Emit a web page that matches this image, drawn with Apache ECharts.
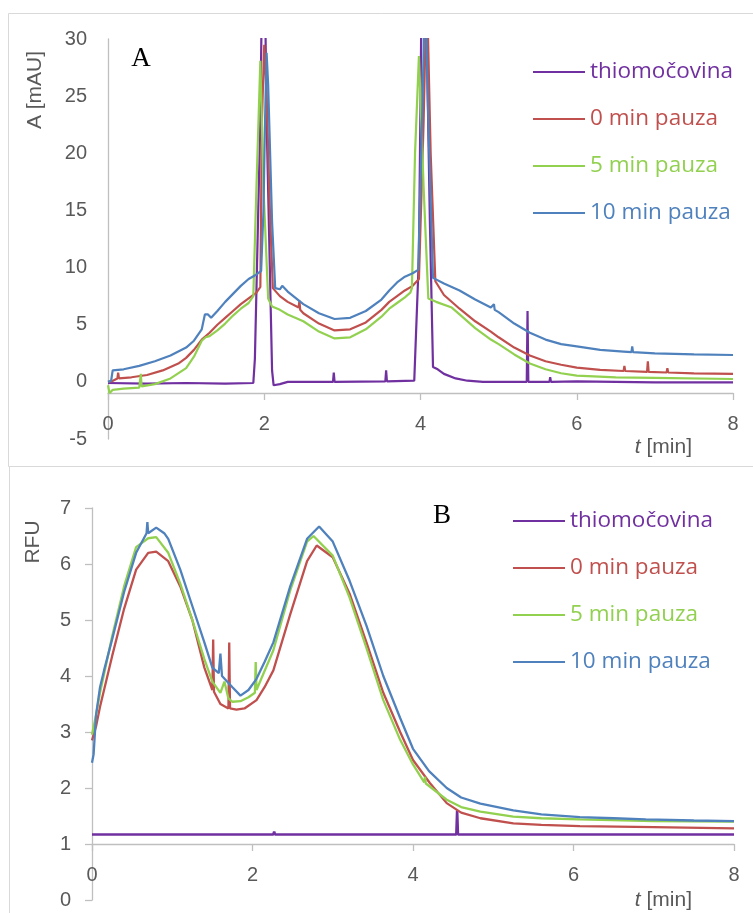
<!DOCTYPE html>
<html>
<head>
<meta charset="utf-8">
<script src="https://cdn.jsdelivr.net/npm/echarts/dist/echarts.min.js"></script>
<style>
  html, body { margin: 0; padding: 0; background: #fff; }
  #chart { width: 753px; height: 913px; }
</style>
</head>
<body>
<div id="chart"></div>
<script>
// series names (legend)
var names = ['thiomočovina', '0 min pauza', '5 min pauza', '10 min pauza']
var colors = ['#7030A0', '#C0504D', '#92D050', '#4F81BD']

// x ticks (both panels)
var xTicks = [0, 2, 4, 6, 8]

// panel A - absorbance [mAU], pairs [t, A]
var thioA = [[0,-0.1],[0.5,-0.15],[1,-0.1],[1.5,-0.15],[1.86,-0.1],[1.88,2],[1.95,23],[1.99,45],[2.03,23],[2.1,1],[2.12,-0.3],[2.2,-0.2],[2.3,0],[2.88,0],[2.89,0.8],[2.9,0],[3.55,0.05],[3.56,1.0],[3.57,0.05],[3.92,0.1],[3.98,11],[4.03,45],[4.08,30],[4.12,14],[4.16,1.3],[4.22,1.1],[4.3,0.7],[4.45,0.3],[4.6,0.1],[4.8,0],[5.36,0],[5.37,6.2],[5.38,0],[5.65,0],[5.66,0.4],[5.67,0],[6,0.05],[7,-0.05],[8,-0.05]]
var p0A = [[0,0],[0.05,0.05],[0.12,0.3],[0.13,0.8],[0.14,0.3],[0.3,0.4],[0.5,0.6],[0.7,1.0],[0.9,1.6],[1.0,2.1],[1.1,2.8],[1.2,3.7],[1.3,4.3],[1.4,5.0],[1.5,5.6],[1.6,6.2],[1.7,6.8],[1.8,7.3],[1.9,7.8],[1.95,8.3],[1.97,22.8],[2.0,29.5],[2.03,25],[2.07,15.4],[2.11,8.2],[2.2,7.5],[2.3,7.0],[2.44,6.5],[2.45,7.1],[2.46,6.3],[2.5,6.0],[2.7,5.1],[2.9,4.5],[3.1,4.6],[3.3,5.2],[3.5,6.3],[3.6,7.0],[3.7,7.5],[3.8,8.0],[3.9,8.4],[3.98,9.0],[4.04,22.8],[4.08,35],[4.13,20],[4.19,8.8],[4.3,7.6],[4.5,6.4],[4.7,5.3],[4.9,4.4],[5.0,3.9],[5.2,3.0],[5.4,2.3],[5.6,1.8],[5.8,1.5],[6.0,1.25],[6.3,1.05],[6.6,0.95],[6.61,1.4],[6.62,0.95],[6.9,0.88],[6.91,1.8],[6.92,0.88],[7.15,0.82],[7.16,1.2],[7.17,0.82],[7.5,0.75],[8,0.7]]
var p5A = [[0,-0.3],[0.02,-1.0],[0.06,-0.7],[0.2,-0.6],[0.4,-0.5],[0.42,0.7],[0.43,-0.4],[0.6,-0.2],[0.8,0.3],[1.0,1.2],[1.1,2.2],[1.2,3.6],[1.25,3.9],[1.3,4.0],[1.4,4.5],[1.5,5.1],[1.6,5.8],[1.7,6.4],[1.8,6.9],[1.86,7.5],[1.9,17],[1.95,28.1],[1.99,17],[2.05,7.3],[2.1,6.6],[2.2,6.3],[2.3,5.9],[2.5,5.3],[2.7,4.4],[2.9,3.8],[3.1,3.9],[3.3,4.6],[3.5,5.7],[3.6,6.4],[3.7,6.9],[3.8,7.4],[3.87,7.8],[3.89,8.2],[3.93,20],[3.98,28.5],[4.04,17],[4.1,7.3],[4.2,7.0],[4.4,6.5],[4.5,5.9],[4.7,4.7],[4.9,3.7],[5.0,3.3],[5.2,2.4],[5.4,1.6],[5.6,1.1],[5.8,0.75],[6.0,0.55],[6.5,0.4],[7,0.35],[8,0.25]]
var p10A = [[0,0],[0.04,0.1],[0.06,1.0],[0.2,1.1],[0.4,1.4],[0.6,1.8],[0.8,2.3],[1.0,3.0],[1.1,3.6],[1.2,4.6],[1.24,5.9],[1.28,5.9],[1.32,5.6],[1.4,6.2],[1.5,7.0],[1.6,7.7],[1.7,8.4],[1.8,9.0],[1.9,9.4],[1.96,9.7],[1.99,15],[2.01,22.8],[2.03,28.8],[2.05,26],[2.1,14],[2.14,8.2],[2.2,8.1],[2.23,8.4],[2.3,7.9],[2.5,6.8],[2.7,6.0],[2.9,5.5],[3.1,5.6],[3.3,6.2],[3.5,7.2],[3.6,8.0],[3.7,8.7],[3.8,9.2],[3.9,9.5],[3.97,9.8],[4.02,22.8],[4.06,35],[4.1,22.8],[4.16,9.1],[4.3,8.6],[4.5,8.0],[4.7,7.2],[4.9,6.5],[4.94,6.8],[4.95,6.3],[5.0,6.1],[5.2,5.1],[5.4,4.3],[5.6,3.7],[5.8,3.3],[6.0,3.1],[6.3,2.8],[6.6,2.65],[6.7,2.6],[6.71,3.1],[6.72,2.6],[7.0,2.5],[7.5,2.4],[8,2.35]]

// panel B - fluorescence [RFU], pairs [t, RFU]
var thioB = [[0,1.17],[2.26,1.17],[2.27,1.22],[2.28,1.17],[4.54,1.17],[4.55,1.6],[4.56,1.17],[8,1.17]]
var p0B = [[0,2.85],[0.05,3.1],[0.1,3.45],[0.25,4.35],[0.4,5.2],[0.55,5.9],[0.7,6.2],[0.8,6.22],[0.95,6.05],[1.1,5.6],[1.25,5.0],[1.4,4.15],[1.5,3.75],[1.51,4.65],[1.52,3.72],[1.6,3.5],[1.7,3.42],[1.71,4.6],[1.72,3.42],[1.8,3.4],[1.9,3.42],[2.05,3.57],[2.15,3.8],[2.26,4.1],[2.47,5.1],[2.68,6.05],[2.8,6.33],[3.0,6.12],[3.21,5.47],[3.42,4.6],[3.63,3.7],[3.84,3.0],[4.0,2.5],[4.21,2.09],[4.42,1.73],[4.6,1.56],[4.84,1.46],[5.25,1.37],[5.6,1.34],[6.08,1.32],[7,1.3],[8,1.28]]
var p5B = [[0,2.95],[0.05,3.3],[0.1,3.7],[0.25,4.7],[0.4,5.6],[0.55,6.3],[0.7,6.46],[0.8,6.48],[0.95,6.2],[1.1,5.65],[1.25,5.0],[1.4,4.3],[1.5,3.9],[1.6,3.7],[1.65,3.9],[1.7,3.6],[1.75,3.54],[1.85,3.55],[1.95,3.62],[2.03,3.7],[2.04,4.25],[2.05,3.75],[2.26,4.46],[2.47,5.53],[2.68,6.4],[2.76,6.5],[3.0,6.15],[3.21,5.4],[3.42,4.5],[3.63,3.57],[3.84,2.86],[4.0,2.42],[4.14,2.1],[4.15,2.2],[4.16,2.08],[4.42,1.79],[4.6,1.66],[4.84,1.58],[5.25,1.49],[5.6,1.46],[6.08,1.44],[7,1.41],[8,1.4]]
var p10B = [[0,2.45],[0.02,2.6],[0.05,3.3],[0.1,3.8],[0.15,4.1],[0.25,4.65],[0.4,5.5],[0.55,6.2],[0.68,6.55],[0.69,6.75],[0.7,6.55],[0.8,6.65],[0.9,6.55],[0.95,6.45],[1.1,5.9],[1.25,5.25],[1.4,4.6],[1.5,4.15],[1.58,4.05],[1.6,4.4],[1.62,4.0],[1.75,3.8],[1.85,3.65],[1.95,3.75],[2.05,3.95],[2.15,4.25],[2.26,4.6],[2.47,5.6],[2.68,6.45],[2.83,6.67],[3.0,6.4],[3.21,5.7],[3.42,4.9],[3.63,4.0],[3.84,3.25],[4.0,2.7],[4.2,2.3],[4.42,2.0],[4.6,1.83],[4.84,1.72],[5.25,1.6],[5.6,1.53],[6.08,1.48],[6.5,1.46],[6.9,1.44],[7.5,1.42],[8,1.41]]

var seriesA = [thioA, p0A, p5A, p10A]
var seriesB = [thioB, p0B, p5B, p10B]

var chart = echarts.init(document.getElementById('chart'))

var labelFont = 'Liberation Sans, Arial, sans-serif'
var legendFont = 'Open Sans, sans-serif'
var axisGray = '#bfbfbf'
var textGray = '#595959'

function xAxisOf(gridIndex, offset) {
  return {
    type: 'value', gridIndex: gridIndex,
    min: xTicks[0], max: xTicks[xTicks.length - 1], interval: 2,
    offset: offset,
    axisLine: { show: true, onZero: false, lineStyle: { color: axisGray, width: 1.3 } },
    axisTick: { show: true, length: 7, lineStyle: { color: axisGray, width: 1.3 } },
    axisLabel: { color: textGray, fontSize: 20, fontFamily: labelFont, margin: 21 },
    splitLine: { show: false }
  }
}

function yAxisOf(gridIndex, min, max, interval, ticks) {
  return {
    type: 'value', gridIndex: gridIndex,
    min: min, max: max, interval: interval,
    axisLine: { show: true, lineStyle: { color: axisGray, width: 1.3 } },
    axisTick: { show: ticks, length: 7, lineStyle: { color: axisGray, width: 1.3 } },
    axisLabel: { color: textGray, fontSize: 20, fontFamily: labelFont, margin: 21 },
    splitLine: { show: false }
  }
}

function legendOf(left, top) {
  return {
    orient: 'vertical', left: left, top: top, padding: 0,
    icon: 'rect', itemWidth: 52, itemHeight: 2, itemGap: 23,
    selectedMode: false,
    textStyle: { fontSize: 22.5, fontFamily: legendFont, lineHeight: 24 },
    data: names.map(function (n, i) {
      return { name: n, textStyle: { color: colors[i] } }
    })
  }
}

var series = []
for (var i = 0; i < names.length; i++) {
  series.push({
    name: names[i], type: 'line', xAxisIndex: 0, yAxisIndex: 0,
    data: seriesA[i], symbol: 'none', animation: false,
    lineStyle: { color: colors[i], width: 2.2 }, itemStyle: { color: colors[i] }
  })
}
for (var j = 0; j < names.length; j++) {
  series.push({
    name: names[j], type: 'line', xAxisIndex: 1, yAxisIndex: 1,
    data: seriesB[j], symbol: 'none', animation: false,
    lineStyle: { color: colors[j], width: j === 0 ? 2.6 : 2.3 }, itemStyle: { color: colors[j] }
  })
}

var italicT = { t: { fontStyle: 'italic', fontSize: 21, fontFamily: labelFont, fill: textGray } }

var option = {
  backgroundColor: '#fff',
  animation: false,
  grid: [
    { left: 108, right: 20, top: 39, bottom: 474, outerBoundsMode: 'none', containLabel: false },
    { left: 92, right: 19, top: 508, bottom: 13, outerBoundsMode: 'none', containLabel: false }
  ],
  // x axis crosses at -1 (A) and 1 (B)
  xAxis: [xAxisOf(0, -46), xAxisOf(1, -56)],
  yAxis: [yAxisOf(0, -5, 30, 5, false), yAxisOf(1, 0, 7, 1, true)],
  legend: [legendOf(533, 60), legendOf(513, 509)],
  graphic: [
    // panel frames
    { type: 'rect', shape: { x: 8.5, y: 13.5, width: 760, height: 453 }, style: { fill: 'none', stroke: '#d9d9d9', lineWidth: 1 }, silent: true },
    { type: 'rect', shape: { x: 9.5, y: 466.5, width: 760, height: 460 }, style: { fill: 'none', stroke: '#d9d9d9', lineWidth: 1 }, silent: true },
    // panel letters
    { type: 'text', x: 141, y: 59, style: { text: 'A', font: '27px "Liberation Serif", "Times New Roman", serif', fill: '#000', align: 'center', verticalAlign: 'middle' } },
    { type: 'text', x: 442, y: 516, style: { text: 'B', font: '27px "Liberation Serif", "Times New Roman", serif', fill: '#000', align: 'center', verticalAlign: 'middle' } },
    // axis titles
    { type: 'text', x: 35, y: 90, rotation: Math.PI / 2, style: { text: 'A [mAU]', font: '21px ' + labelFont, fill: textGray, align: 'center', verticalAlign: 'middle' } },
    { type: 'text', x: 33, y: 542, rotation: Math.PI / 2, style: { text: 'RFU', font: '21px ' + labelFont, fill: textGray, align: 'center', verticalAlign: 'middle' } },
    { type: 'text', x: 692, y: 447, style: { text: '{t|t} [min]', rich: italicT, font: '21px ' + labelFont, fill: textGray, align: 'right', verticalAlign: 'middle' } },
    { type: 'text', x: 692, y: 900, style: { text: '{t|t} [min]', rich: italicT, font: '21px ' + labelFont, fill: textGray, align: 'right', verticalAlign: 'middle' } }
  ],
  series: series
}

chart.setOption(option)
</script>
</body>
</html>
